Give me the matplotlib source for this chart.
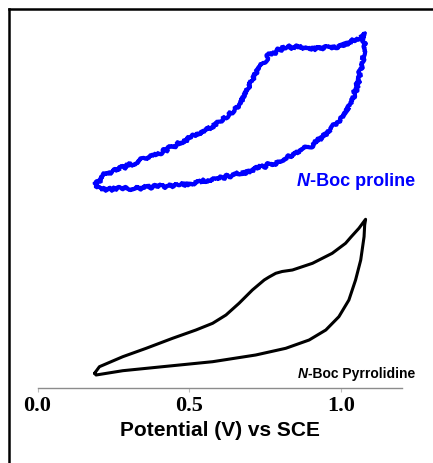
import matplotlib
matplotlib.use("Agg")
import matplotlib.pyplot as plt
from matplotlib.lines import Line2D

# Cyclic voltammograms (current in arbitrary units, curves offset vertically)
boc_pyrrolidine_v = [0.188, 0.204, 0.281, 0.358, 0.445, 0.522, 0.577, 0.621, 0.664,
                     0.708, 0.747, 0.763, 0.785, 0.806, 0.840, 0.906, 0.971, 1.015,
                     1.033, 1.059, 1.081,
                     1.078, 1.076, 1.065, 1.048, 1.026, 0.993, 0.950, 0.895, 0.818,
                     0.719, 0.577, 0.412, 0.281, 0.193, 0.188]
boc_pyrrolidine_i = [1.47, 2.13, 3.13, 3.97, 4.97, 5.80, 6.47, 7.30, 8.47,
                     9.80, 10.80, 11.10, 11.47, 11.65, 11.80, 12.47, 13.47, 14.47,
                     15.10, 15.97, 16.87,
                     16.30, 15.13, 12.80, 10.80, 8.80, 7.13, 5.80, 4.80, 3.97,
                     3.30, 2.63, 2.13, 1.73, 1.30, 1.47]

boc_proline_v = [0.188, 0.193, 0.215, 0.303, 0.412, 0.522, 0.599, 0.654, 0.687, 0.719,
                 0.763, 0.818, 0.906, 0.983, 1.048, 1.076, 1.079,
                 1.070, 1.054, 1.026, 0.971, 0.906, 0.796, 0.687, 0.577, 0.467,
                 0.303, 0.204, 0.188]
boc_proline_i = [20.6, 20.3, 21.3, 22.3, 23.63, 25.3, 26.63, 27.97, 29.63, 31.63,
                 33.3, 34.13, 33.97, 34.13, 34.8, 35.3, 35.5,
                 32.63, 30.3, 27.97, 25.97, 24.3, 22.63, 21.63, 20.8, 20.3,
                 19.97, 19.8, 20.6]

xticks = [0.0, 0.5, 1.0]
xtick_labels = ["0.0", "0.5", "1.0"]

W, H = 433, 463
fig = plt.figure(figsize=(W / 100, H / 100), dpi=100)
fig.patch.set_facecolor("white")

ax = fig.add_axes([37.5 / W, (H - 388) / H, (401.7 - 37.5) / W, (388 - 20) / H])
ax.set_xlim(0.0, 1.2)
ax.set_ylim(0.0, 36.8)

ax.plot(boc_pyrrolidine_v, boc_pyrrolidine_i, color="black", lw=2.2,
        solid_joinstyle="round", solid_capstyle="round")
blue, = ax.plot(boc_proline_v, boc_proline_i, color="#0000ff", lw=3.0,
                solid_joinstyle="bevel", solid_capstyle="butt")
blue.set_sketch_params(scale=2.0, length=2.5, randomness=20)

for side in ("left", "right", "top"):
    ax.spines[side].set_visible(False)
ax.spines["bottom"].set_color("#8c8c8c")
ax.spines["bottom"].set_linewidth(1.0)
ax.set_yticks([])
ax.set_xticks(xticks)
ax.set_xticklabels(xtick_labels, family="Liberation Serif", fontweight="bold",
                   fontsize=16)
ax.tick_params(axis="x", direction="out", length=3, width=0.8, color="#bdbdbd",
               pad=3)
ax.set_xlabel("Potential (V) vs SCE", family="Liberation Sans", fontweight="bold",
              fontsize=15, labelpad=3)
ax.patch.set_alpha(0)

# Curve labels with italic N
def label(x_px, y_px, color, rest, size):
    t1 = fig.text(x_px / W, 1 - y_px / H, "N", color=color, family="Liberation Sans",
                  fontweight="bold", style="italic", fontsize=size, va="center",
                  ha="left")
    fig.canvas.draw()
    bb = t1.get_window_extent()
    fig.text(bb.x1 / W, 1 - y_px / H, rest, color=color, family="Liberation Sans",
             fontweight="bold", fontsize=size, va="center", ha="left")

label(297, 182, "#0000ff", "-Boc proline", 13)
label(298, 374, "black", "-Boc Pyrrolidine", 10)

# Outer frame
fig.add_artist(Line2D([9 / W, 9 / W], [0, 1 - 9 / H], transform=fig.transFigure,
                      color="black", lw=1.8, solid_capstyle="projecting"))
fig.add_artist(Line2D([9 / W, 1], [1 - 9 / H, 1 - 9 / H], transform=fig.transFigure,
                      color="black", lw=1.8, solid_capstyle="projecting"))

fig.savefig("out.png", dpi=100)
